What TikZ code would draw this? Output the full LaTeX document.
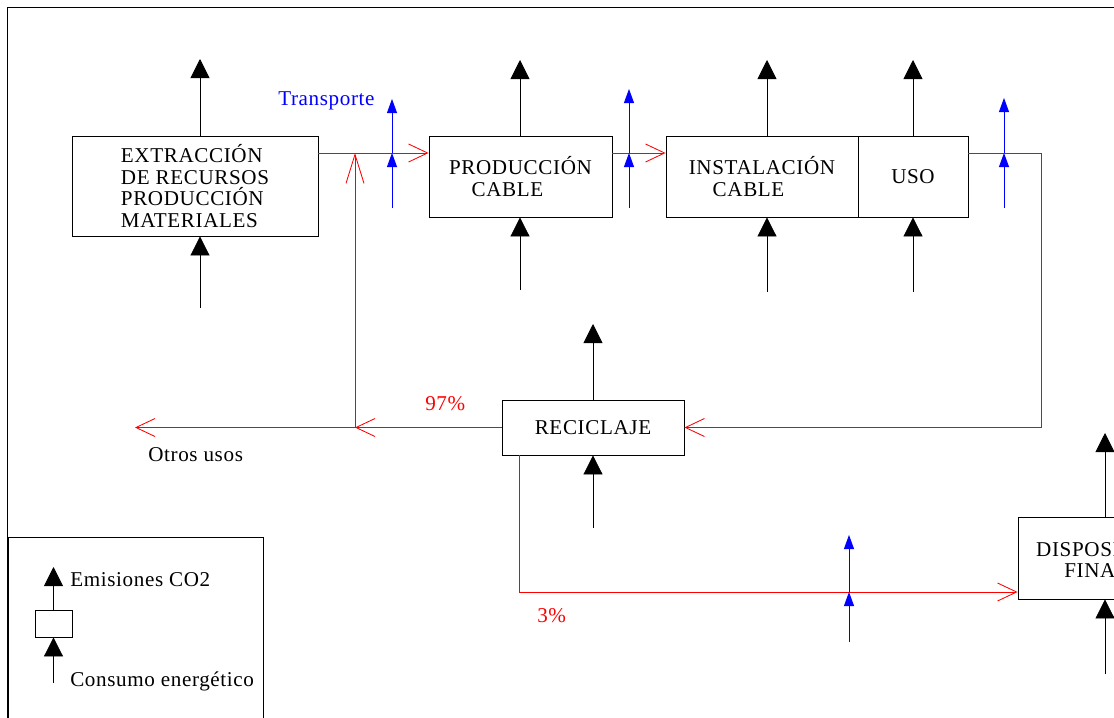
\documentclass[tikz,border=0pt]{standalone}
\usepackage{fontspec}
\setmainfont{Liberation Serif}[LetterSpace=3]
\usetikzlibrary{arrows.meta}

\begin{document}
\begin{tikzpicture}[x=0.025cm, y=-0.025cm,
    every node/.style={font=\fontsize{15}{15.5}\selectfont, inner sep=0pt},
    caja/.style={draw, line width=0.6pt, align=left},
    emision/.style={line width=0.6pt, -{Triangle[length=0.475cm, width=0.475cm]}},
    flujo/.style={red, line width=0.6pt, -{Straight Barb[length=0.475cm, width=0.45cm]}},
    transp/.style={blue, line width=0.6pt, -{Triangle[length=0.35cm, width=0.25cm]}}]

    \useasboundingbox (0,0) rectangle (1114,718);
    \clip (0,0) rectangle (1114,718);

    % marco
    \draw[line width=0.6pt] (7,730) -- (7,7) -- (1120,7);

    % etapas
    \node[caja, minimum width=6.15cm, minimum height=2.5cm] (extraccion) at (195,186) {EXTRACCIÓN\\DE RECURSOS\\PRODUCCIÓN\\MATERIALES};
    \node[caja, minimum width=4.575cm, minimum height=2.025cm] (produccion) at (520.5,176.5) {PRODUCCIÓN\\\hspace*{16pt}CABLE};
    \node[caja, minimum width=4.8cm, minimum height=2.025cm] (instalacion) at (762,176.5) {INSTALACIÓN\\\hspace*{17pt}CABLE};
    \node[caja, minimum width=2.75cm, minimum height=2.025cm] (uso) at (913,176.5) {USO};
    \node[caja, minimum width=4.55cm, minimum height=1.375cm] (reciclaje) at (593,427.5) {RECICLAJE};
    \node[caja, minimum width=4.35cm, minimum height=2.05cm] (disposicion) at (1105,558) {DISPOSICIÓN\\\hspace*{20pt}FINAL};

    % emisiones y consumo
    \foreach \n/\x/\t/\b in {extraccion/200/59/308, produccion/520/60/290, instalacion/767/60/292,
                             uso/913/60/292, reciclaje/593/324/528, disposicion/1105/433/674} {
        \coordinate (\n-co2) at (\x,\t);
        \coordinate (\n-ene) at (\x,\b);
        \draw[emision] (\n.north -| \n-co2) -- (\n-co2);
        \draw[emision] (\n-ene) -- (\n.south -| \n-ene);
    }

    % flujos de material
    \coordinate (nivel) at (0,153);
    \coordinate (retorno) at (1041,153);
    \coordinate (cruce) at (355,427.5);
    \coordinate (otros) at (135,427.5);
    \coordinate (baja) at (519,592);
    \draw[flujo] (extraccion.east |- nivel) -- (produccion.west |- nivel);
    \draw[flujo] (produccion.east |- nivel) -- (instalacion.west |- nivel);
    \draw[flujo] (uso.east |- nivel) -- (retorno) -- (retorno |- reciclaje.east) -- (reciclaje.east);
    \draw[flujo] (reciclaje.west) -- (cruce);
    \draw[flujo] (cruce) -- (otros);
    \draw[flujo, -{Straight Barb[length=0.725cm, width=0.45cm]}] (cruce) -- (cruce |- nivel);
    \draw[flujo] (reciclaje.south -| baja) -- (baja) -- (disposicion.west |- baja);

    % transporte
    \foreach \i/\x/\b/\m/\t in {1/392/208/153/99, 2/629/208/153/89, 3/1004/208/153/98, 4/849/642/592/535} {
        \coordinate (tb\i) at (\x,\b);
        \coordinate (tm\i) at (\x,\m);
        \coordinate (tt\i) at (\x,\t);
        \draw[transp] (tb\i) -- (tm\i);
        \draw[transp] (tm\i) -- (tt\i);
    }

    % textos
    \node[blue, anchor=base west] (transporte) at (278,105) {Transporte};
    \node[red, anchor=base west] (p97) at (425,410) {97\%};
    \node[red, anchor=base west] (p3) at (537,622) {3\%};
    \node[anchor=base west] (otrosusos) at (148,461) {Otros usos};

    % leyenda
    \draw[line width=0.6pt] (8,537) rectangle (263,730);
    \node[caja, minimum width=0.925cm, minimum height=0.675cm] (muestra) at (53.5,623.5) {};
    \coordinate (ley-co2) at (53.5,567);
    \coordinate (ley-ene) at (53.5,683);
    \draw[emision] (muestra.north) -- (ley-co2);
    \draw[emision] (ley-ene) -- (muestra.south);
    \node[anchor=base west] (emisiones) at (70,586) {Emisiones CO2};
    \node[anchor=base west] (consumo) at (70,686) {Consumo energético};

\end{tikzpicture}
\end{document}
